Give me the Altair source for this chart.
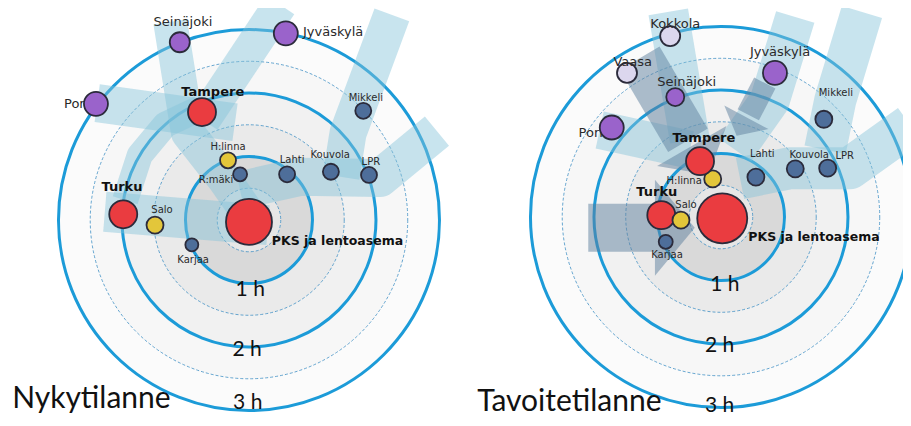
import altair as alt
import pandas as pd
import numpy as np

PX = 63.5                      # pixels per hour of travel time
W, H = 895, 410
XMIN = -3.795
XMAX = XMIN + W / PX
YMAX = 3.339
YMIN = YMAX - H / PX

panel_cx = [0.0, 7.433]
panel_cy = [0.0, 0.047]

# ---------- cities: current situation (east / north offset in hours) ----------
cur_city = ["PKS ja lentoasema", "Turku", "Salo", "Karjaa", "R:mäki", "H:linna", "Lahti",
            "Kouvola", "LPR", "Mikkeli", "Tampere", "Pori", "Seinäjoki", "Jyväskylä"]
cur_east = [0.0, -1.98, -1.48, -0.90, -0.14, -0.33, 0.60, 1.29, 1.89, 1.80, -0.74, -2.41, -1.09, 0.58]
cur_north = [-0.03, 0.09, -0.08, -0.39, 0.72, 0.94, 0.72, 0.76, 0.71, 1.72, 1.70, 1.83, 2.80, 2.94]
cur_kind = ["red", "red", "yellow", "blue", "blue", "yellow", "blue", "blue", "blue", "blue",
            "red", "purple", "purple", "purple"]
cur_diam = [46, 28, 17, 13, 14, 16, 16, 16, 16, 16, 28, 24, 20, 24]

# ---------- cities: target situation ----------
tgt_city = ["PKS ja lentoasema", "Turku", "Salo", "Karjaa", "H:linna", "Tampere", "Lahti",
            "Kouvola", "LPR", "Mikkeli", "Pori", "Seinäjoki", "Jyväskylä", "Vaasa", "Kokkola"]
tgt_east = [0.02, -0.94, -0.63, -0.87, -0.13, -0.33, 0.55, 1.17, 1.68, 1.62, -1.72, -0.72, 0.85, -1.48, -0.80]
tgt_north = [-0.02, 0.03, -0.05, -0.39, 0.60, 0.88, 0.63, 0.76, 0.77, 1.54, 1.41, 1.89, 2.27, 2.27, 2.85]
tgt_kind = ["red", "red", "yellow", "blue", "yellow", "red", "blue", "blue", "blue", "blue",
            "purple", "purple", "purple", "lav", "lav"]
tgt_diam = [50, 28, 17, 14, 17, 28, 17, 17, 17, 17, 24, 18, 24, 20, 20]

# ---------- labels ----------
cur_lab = ["Seinäjoki", "Jyväskylä", "Pori", "Tampere", "Mikkeli", "H:linna", "R:mäki", "Lahti",
           "Kouvola", "LPR", "Turku", "Salo", "Karjaa", "PKS ja lentoasema", "1 h", "2 h", "3 h", "Nykytilanne"]
cur_lab_e = [-1.04, 0.85, -2.53, -0.57, 1.84, -0.33, -0.52, 0.68, 1.28, 1.92, -2.00, -1.37, -0.88, 0.36,
             0.02, -0.03, -0.02, -3.73]
cur_lab_n = [3.12, 2.96, 1.83, 2.02, 1.92, 1.15, 0.63, 0.94, 1.02, 0.91, 0.52, 0.16, -0.63, -0.33,
             -1.10, -2.05, -2.88, -2.96]
cur_lab_g = ["n13c", "n13l", "n13r", "b14c", "n10c", "n10c", "n10c", "n10c", "n10c", "n10c", "b14c",
             "n10c", "n10c", "b13l", "h", "h", "h", "t"]

tgt_lab = ["Kokkola", "Vaasa", "Jyväskylä", "Seinäjoki", "Mikkeli", "Pori", "Tampere", "Lahti", "Kouvola",
           "LPR", "H:linna", "Turku", "Salo", "Karjaa", "PKS ja lentoasema", "1 h", "2 h", "3 h", "Tavoitetilanne"]
tgt_lab_e = [-0.72, -1.39, 0.93, -0.54, 1.81, -1.86, -0.27, 0.65, 1.39, 1.95, -0.58, -1.01, -0.55, -0.85,
             0.43, 0.06, -0.02, -0.02, -3.84]
tgt_lab_n = [3.04, 2.44, 2.60, 2.13, 1.95, 1.32, 1.24, 0.99, 0.98, 0.96, 0.57, 0.39, 0.19, -0.60,
             -0.31, -1.07, -2.03, -2.98, -3.06]
tgt_lab_g = ["n13c", "n13c", "n13c", "n13c", "n10c", "n13r", "b14c", "n10c", "n10c", "n10c", "n10c",
             "b14c", "n10c", "n10c", "b13l", "h", "h", "h", "t"]

# ---------- travel-time rings ----------
ring_h = [0.5, 1.0, 1.5, 2.0, 2.5, 3.0]
ring_dashed = [True, False, True, False, True, False]
shade_h = [3.0, 2.5, 2.0, 1.5, 1.0, 0.5]
shade_gray = ["#fbfbfb", "#f7f7f7", "#f1f1f1", "#eaeaea", "#d9d9d9", "#e6e6e6"]

# ---------- commuting flows (paths in hours), panel index ----------
band_panel = [0, 0, 0, 0, 0, 0, 0, 1, 1, 1, 1, 1]
band_e = [[-2.39, -0.22], [-1.24, -0.96, -0.38, 0.0], [0.49, -0.72], [2.25, 1.56, 1.45],
          [2.96, 2.06, 0.80, -0.14], [-2.27, 0.30], [-1.95, -1.72, -1.32, -0.77],
          [-0.83, -0.49], [1.17, 0.77, 0.22], [2.22, 1.80, 1.64], [2.98, 2.03, 1.09, 0.30], [-1.91, -0.49]]
band_n = [[1.84, 1.54], [3.12, 1.37, 0.63, 0.08], [3.39, 1.57], [3.23, 1.37, 0.68],
          [1.40, 0.66, 0.68, 0.47], [0.13, -0.08], [0.31, 1.02, 1.50, 1.76],
          [3.23, 1.21], [3.15, 1.84, 1.06], [3.23, 1.84, 1.06], [1.45, 0.77, 0.77, 0.61], [1.37, 1.06]]
band_w = [38, 34, 34, 37, 38, 40, 26, 40, 40, 42, 42, 38]

# target-state arrows (panel 1)
arrow_e = [[-1.28, -0.52], [0.69, 0.43], [-2.09, -1.04]]
arrow_n = [[2.50, 1.21], [2.11, 1.61], [-0.17, -0.17]]
arrow_w = [46, 24, 48]
head_e = [-0.46, 0.40, -1.04]
head_n = [1.12, 1.57, -0.17]
head_ang = [60, 118, 0]
head_len = [80, 50, 96]

# ---------------- build tables ----------------
def cities(names, e, n, kind, d, p):
    return pd.DataFrame({"city": names, "x": np.array(e) + panel_cx[p], "y": np.array(n) + panel_cy[p],
                         "kind": kind, "sz": np.array(d, float) ** 2})

city_df = pd.concat([cities(cur_city, cur_east, cur_north, cur_kind, cur_diam, 0),
                     cities(tgt_city, tgt_east, tgt_north, tgt_kind, tgt_diam, 1)])

def labels(t, e, n, g, p):
    return pd.DataFrame({"t": t, "x": np.array(e) + panel_cx[p], "y": np.array(n) + panel_cy[p], "g": g})

lab_df = pd.concat([labels(cur_lab, cur_lab_e, cur_lab_n, cur_lab_g, 0),
                    labels(tgt_lab, tgt_lab_e, tgt_lab_n, tgt_lab_g, 1)])

ring_rows, shade_rows = [], []
for p in range(2):
    for h, d in zip(ring_h, ring_dashed):
        ring_rows.append({"x": panel_cx[p], "y": panel_cy[p], "sz": (2 * h * PX) ** 2, "dashed": d})
    for i, (h, g) in enumerate(zip(shade_h, shade_gray)):
        shade_rows.append({"x": panel_cx[p], "y": panel_cy[p], "sz": (2 * h * PX) ** 2, "g": g, "o": i})
ring_df = pd.DataFrame(ring_rows)
shade_df = pd.DataFrame(shade_rows)

band_rows = []
for b, (p, es, ns, w) in enumerate(zip(band_panel, band_e, band_n, band_w)):
    for k, (e, n) in enumerate(zip(es, ns)):
        band_rows.append({"b": b, "k": k, "x": e + panel_cx[p], "y": n + panel_cy[p], "w": w})
band_df = pd.DataFrame(band_rows)

arrow_rows = []
for b, (es, ns, w) in enumerate(zip(arrow_e, arrow_n, arrow_w)):
    for k, (e, n) in enumerate(zip(es, ns)):
        arrow_rows.append({"b": b, "k": k, "x": e + panel_cx[1], "y": n + panel_cy[1], "w": w})
arrow_df = pd.DataFrame(arrow_rows)
head_df = pd.DataFrame({"x": np.array(head_e) + panel_cx[1], "y": np.array(head_n) + panel_cy[1],
                        "ang": head_ang, "sz": np.array(head_len, float) ** 2})

# ---------------- chart ----------------
X = alt.X("x:Q", scale=alt.Scale(domain=[XMIN, XMAX], nice=False, zero=False), axis=None)
Y = alt.Y("y:Q", scale=alt.Scale(domain=[YMIN, YMAX], nice=False, zero=False), axis=None)

shade = alt.Chart(shade_df).mark_circle(opacity=1, strokeWidth=0, clip=True).encode(
    x=X, y=Y, size=alt.Size("sz:Q", scale=None), fill=alt.Fill("g:N", scale=None),
    order=alt.Order("o:Q"))

dashed = alt.Chart(ring_df).transform_filter("datum.dashed").mark_point(
    filled=False, shape="circle", stroke="#3f8fc4", strokeWidth=0.8, strokeDash=[3, 2], opacity=1, clip=True
).encode(x=X, y=Y, size=alt.Size("sz:Q", scale=None))

solid = alt.Chart(ring_df).transform_filter("!datum.dashed").mark_point(
    filled=False, shape="circle", stroke="#1c9bd8", strokeWidth=3, opacity=1, clip=True
).encode(x=X, y=Y, size=alt.Size("sz:Q", scale=None))

bands = alt.Chart(band_df).mark_line(color="#86c4da", opacity=0.45, strokeCap="butt",
                                     strokeJoin="round", clip=True).encode(
    x=X, y=Y, detail="b:N", order="k:Q", strokeWidth=alt.StrokeWidth("w:Q", scale=None))

arrows = alt.Chart(arrow_df).mark_line(color="#5d7f9e", opacity=0.5, strokeCap="butt",
                                       strokeJoin="round", clip=True).encode(
    x=X, y=Y, detail="b:N", order="k:Q", strokeWidth=alt.StrokeWidth("w:Q", scale=None))

heads = alt.Chart(head_df).mark_point(shape="M0,-1L0.83,0L0,1Z", filled=True, fill="#5d7f9e",
                                      opacity=0.5, strokeWidth=0, clip=True).encode(
    x=X, y=Y, size=alt.Size("sz:Q", scale=None), angle=alt.Angle("ang:Q", scale=None))

dots = alt.Chart(city_df).mark_circle(opacity=1, stroke="#2b2b3b", strokeWidth=1.8).encode(
    x=X, y=Y, size=alt.Size("sz:Q", scale=None),
    fill=alt.Fill("kind:N", scale=alt.Scale(domain=["red", "yellow", "blue", "purple", "lav"],
                                            range=["#ea3c40", "#e3c63a", "#4e6e9a", "#9a63cb", "#dcd7ee"]),
                  legend=None))

def text_layer(g, **kw):
    return alt.Chart(lab_df).transform_filter(f"datum.g == '{g}'").mark_text(**kw).encode(
        x=X, y=Y, text="t:N")

txt = [
    text_layer("n13c", font="DejaVu Sans", fontSize=13, color="#2a2a2a", align="center", baseline="middle"),
    text_layer("n13l", font="DejaVu Sans", fontSize=13, color="#2a2a2a", align="left", baseline="middle"),
    text_layer("n13r", font="DejaVu Sans", fontSize=13, color="#2a2a2a", align="right", baseline="middle"),
    text_layer("n10c", font="DejaVu Sans", fontSize=10, color="#2a2a2a", align="center", baseline="middle"),
    text_layer("b14c", font="DejaVu Sans", fontSize=13, fontWeight="bold", color="#111111",
               align="center", baseline="middle"),
    text_layer("b13l", font="DejaVu Sans", fontSize=12.5, fontWeight="bold", color="#111111",
               align="left", baseline="middle"),
    text_layer("h", font="Lato", fontSize=21, color="#111111", align="center", baseline="middle"),
    text_layer("t", font="Lato", fontSize=30, color="#111111", align="left", baseline="alphabetic"),
]

# Pori labels sit partly under their circles, so they are drawn before the dots
chart = alt.layer(shade, dashed, solid, bands, arrows, heads, txt[2], dots,
                  *[t for i, t in enumerate(txt) if i != 2]).properties(
    width=W, height=H, padding=0, autosize=alt.AutoSizeParams(type="none")
).configure_view(stroke=None)

chart.save("out.html", embed_options={"renderer": "svg", "actions": False})
